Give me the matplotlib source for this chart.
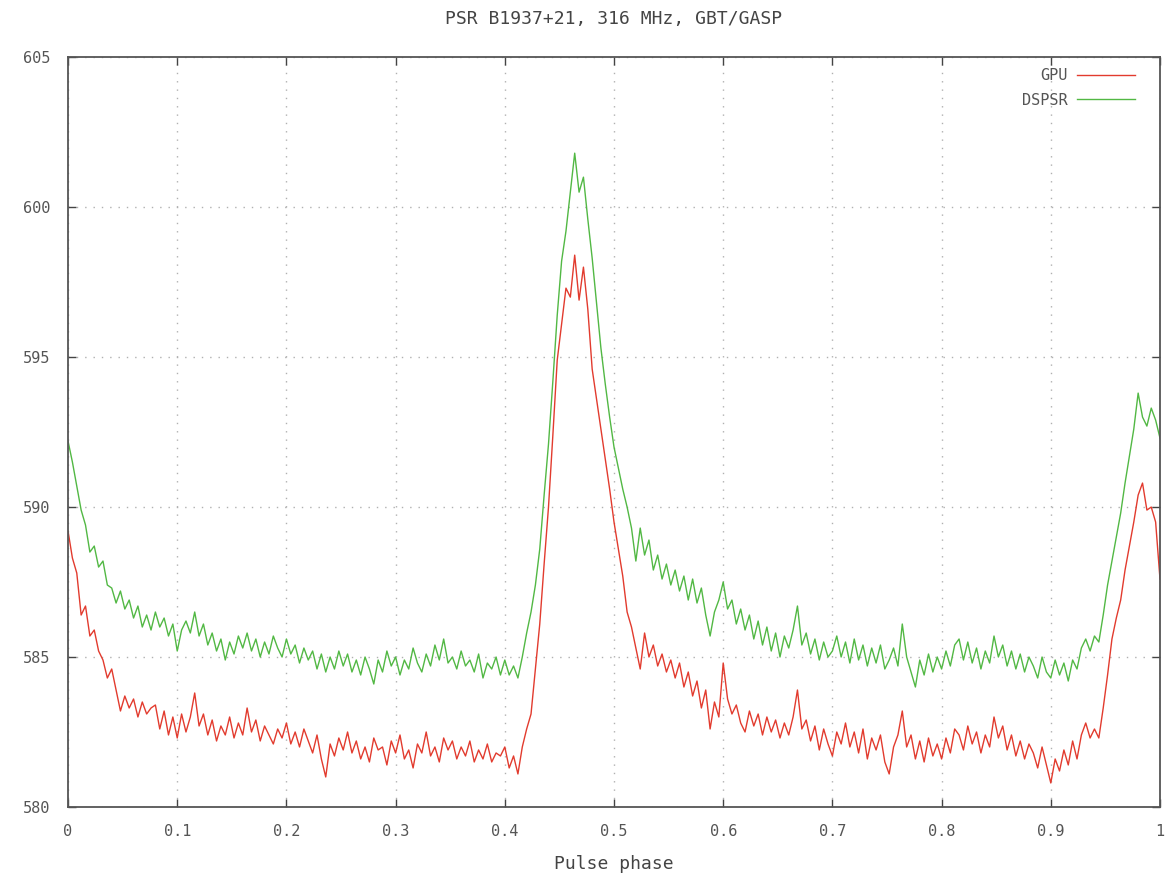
import numpy as np
import matplotlib.pyplot as plt

# Perfil de pulso PSR B1937+21 (paso de 0.004 en fase)
fase = np.linspace(0.0, 1.0, 251)

gpu = [
    589.2, 588.3, 587.8, 586.4, 586.7, 585.7, 585.9, 585.2, 584.9, 584.3,
    584.6, 583.9, 583.2, 583.7, 583.3, 583.6, 583.0, 583.5, 583.1, 583.3,
    583.4, 582.6, 583.2, 582.4, 583.0, 582.3, 583.1, 582.5, 583.0, 583.8,
    582.7, 583.1, 582.4, 582.9, 582.2, 582.7, 582.4, 583.0, 582.3, 582.8,
    582.4, 583.3, 582.5, 582.9, 582.2, 582.7, 582.4, 582.1, 582.6, 582.3,
    582.8, 582.1, 582.5, 582.0, 582.6, 582.2, 581.8, 582.4, 581.6, 581.0,
    582.1, 581.7, 582.3, 581.9, 582.5, 581.8, 582.2, 581.6, 582.0, 581.5,
    582.3, 581.9, 582.0, 581.4, 582.2, 581.8, 582.4, 581.6, 581.9, 581.3,
    582.1, 581.8, 582.5, 581.7, 582.0, 581.5, 582.3, 581.9, 582.2, 581.6,
    582.0, 581.7, 582.2, 581.5, 581.9, 581.6, 582.1, 581.5, 581.8, 581.7,
    582.0, 581.3, 581.7, 581.1, 582.0, 582.6, 583.1, 584.6, 586.1, 588.1,
    590.0, 592.4, 594.9, 596.1, 597.3, 597.0, 598.4, 596.9, 598.0, 596.6,
    594.6, 593.6, 592.6, 591.6, 590.6, 589.5, 588.6, 587.7, 586.5, 586.0,
    585.3, 584.6, 585.8, 585.0, 585.4, 584.7, 585.1, 584.5, 584.9, 584.3,
    584.8, 584.0, 584.5, 583.7, 584.2, 583.3, 583.9, 582.6, 583.5, 583.0,
    584.8, 583.6, 583.1, 583.4, 582.8, 582.5, 583.2, 582.7, 583.1, 582.4,
    583.0, 582.5, 582.9, 582.3, 582.8, 582.4, 583.0, 583.9, 582.6, 582.9,
    582.2, 582.7, 581.9, 582.6, 582.1, 581.7, 582.5, 582.1, 582.8, 582.0,
    582.5, 581.8, 582.6, 581.6, 582.3, 581.9, 582.4, 581.5, 581.1, 582.0,
    582.4, 583.2, 582.0, 582.4, 581.6, 582.2, 581.5, 582.3, 581.7, 582.1,
    581.6, 582.3, 581.8, 582.6, 582.4, 581.9, 582.7, 582.1, 582.5, 581.8,
    582.4, 582.0, 583.0, 582.3, 582.7, 581.9, 582.4, 581.7, 582.2, 581.6,
    582.1, 581.8, 581.3, 582.0, 581.4, 580.8, 581.6, 581.2, 581.9, 581.4,
    582.2, 581.6, 582.4, 582.8, 582.3, 582.6, 582.3, 583.3, 584.4, 585.6,
    586.3, 586.9, 587.9, 588.7, 589.5, 590.4, 590.8, 589.9, 590.0, 589.5,
    587.6,
]

dspsr = [
    592.2, 591.5, 590.7, 589.9, 589.4, 588.5, 588.7, 588.0, 588.2, 587.4,
    587.3, 586.8, 587.2, 586.6, 586.9, 586.3, 586.7, 586.0, 586.4, 585.9,
    586.5, 586.0, 586.3, 585.7, 586.1, 585.2, 585.9, 586.2, 585.8, 586.5,
    585.7, 586.1, 585.4, 585.8, 585.2, 585.6, 584.9, 585.5, 585.1, 585.7,
    585.3, 585.8, 585.2, 585.6, 585.0, 585.5, 585.1, 585.7, 585.3, 585.0,
    585.6, 585.1, 585.4, 584.8, 585.3, 584.9, 585.2, 584.6, 585.1, 584.5,
    585.0, 584.6, 585.2, 584.7, 585.1, 584.5, 584.9, 584.4, 585.0, 584.6,
    584.1, 584.9, 584.5, 585.2, 584.7, 585.0, 584.4, 584.9, 584.6, 585.3,
    584.8, 584.5, 585.1, 584.7, 585.4, 584.9, 585.6, 584.8, 585.0, 584.6,
    585.2, 584.7, 584.9, 584.5, 585.1, 584.3, 584.8, 584.6, 585.0, 584.4,
    584.9, 584.4, 584.7, 584.3, 585.0, 585.8, 586.5, 587.4, 588.6, 590.4,
    592.1, 594.2, 596.4, 598.2, 599.2, 600.5, 601.8, 600.5, 601.0, 599.6,
    598.3, 596.8, 595.3, 594.1, 593.0, 592.0, 591.3, 590.6, 590.0, 589.3,
    588.2, 589.3, 588.4, 588.9, 587.9, 588.4, 587.6, 588.1, 587.4, 587.9,
    587.2, 587.7, 586.9, 587.6, 586.8, 587.3, 586.4, 585.7, 586.5, 586.9,
    587.5, 586.6, 586.9, 586.1, 586.6, 585.9, 586.4, 585.6, 586.2, 585.4,
    586.0, 585.2, 585.8, 585.0, 585.7, 585.3, 585.9, 586.7, 585.4, 585.8,
    585.1, 585.6, 584.9, 585.5, 585.0, 585.2, 585.7, 585.0, 585.5, 584.8,
    585.6, 584.9, 585.4, 584.7, 585.3, 584.8, 585.4, 584.6, 584.9, 585.3,
    584.7, 586.1, 585.0, 584.5, 584.0, 584.9, 584.4, 585.1, 584.5, 585.0,
    584.6, 585.2, 584.7, 585.4, 585.6, 584.9, 585.5, 584.8, 585.3, 584.6,
    585.2, 584.8, 585.7, 585.0, 585.4, 584.7, 585.2, 584.6, 585.1, 584.5,
    585.0, 584.7, 584.3, 585.0, 584.5, 584.3, 584.9, 584.4, 584.8, 584.2,
    584.9, 584.6, 585.3, 585.6, 585.2, 585.7, 585.5, 586.4, 587.4, 588.2,
    589.0, 589.8, 590.8, 591.7, 592.6, 593.8, 593.0, 592.7, 593.3, 592.9,
    592.3,
]

xticks = [0, 0.1, 0.2, 0.3, 0.4, 0.5, 0.6, 0.7, 0.8, 0.9, 1]
xticklabels = ['0', '0.1', '0.2', '0.3', '0.4', '0.5', '0.6', '0.7', '0.8', '0.9', '1']
yticks = [580, 585, 590, 595, 600, 605]

plt.rcParams['font.family'] = ['DejaVu Sans Mono']

fig = plt.figure(figsize=(11.65, 8.8), dpi=100)
ax = fig.add_axes([0.0584, 0.083, 0.9373, 0.852])

ax.plot(fase, gpu, color='#e23b2e', linewidth=1.0, label='GPU')
ax.plot(fase, dspsr, color='#52b844', linewidth=1.0, label='DSPSR')

ax.set_xlim(0, 1)
ax.set_ylim(580, 605)
ax.set_xticks(xticks)
ax.set_xticklabels(xticklabels)
ax.set_yticks(yticks)

ax.grid(True, color='#b0b0b0', linestyle=(0, (1, 5)), linewidth=1.0)
ax.tick_params(direction='in', length=6, width=1, colors='#444444',
               labelcolor='#555555', labelsize=11, top=True, right=True)
ax.tick_params(axis='x', pad=12)
ax.tick_params(axis='y', pad=13)
for s in ax.spines.values():
    s.set_color('#555555')
    s.set_linewidth(1.3)

ax.set_title('PSR B1937+21, 316 MHz, GBT/GASP', fontsize=13, color='#444444', pad=24)
ax.set_xlabel('Pulse phase', fontsize=13, color='#444444', labelpad=12)

leg = ax.legend(loc='upper right', frameon=False, markerfirst=False,
                handlelength=3.8, handletextpad=0.6, fontsize=11,
                labelspacing=0.6, borderaxespad=0.0,
                bbox_to_anchor=(0.9826, 0.9933))
for t in leg.get_texts():
    t.set_color('#555555')

fig.savefig('out.png', dpi=100)
